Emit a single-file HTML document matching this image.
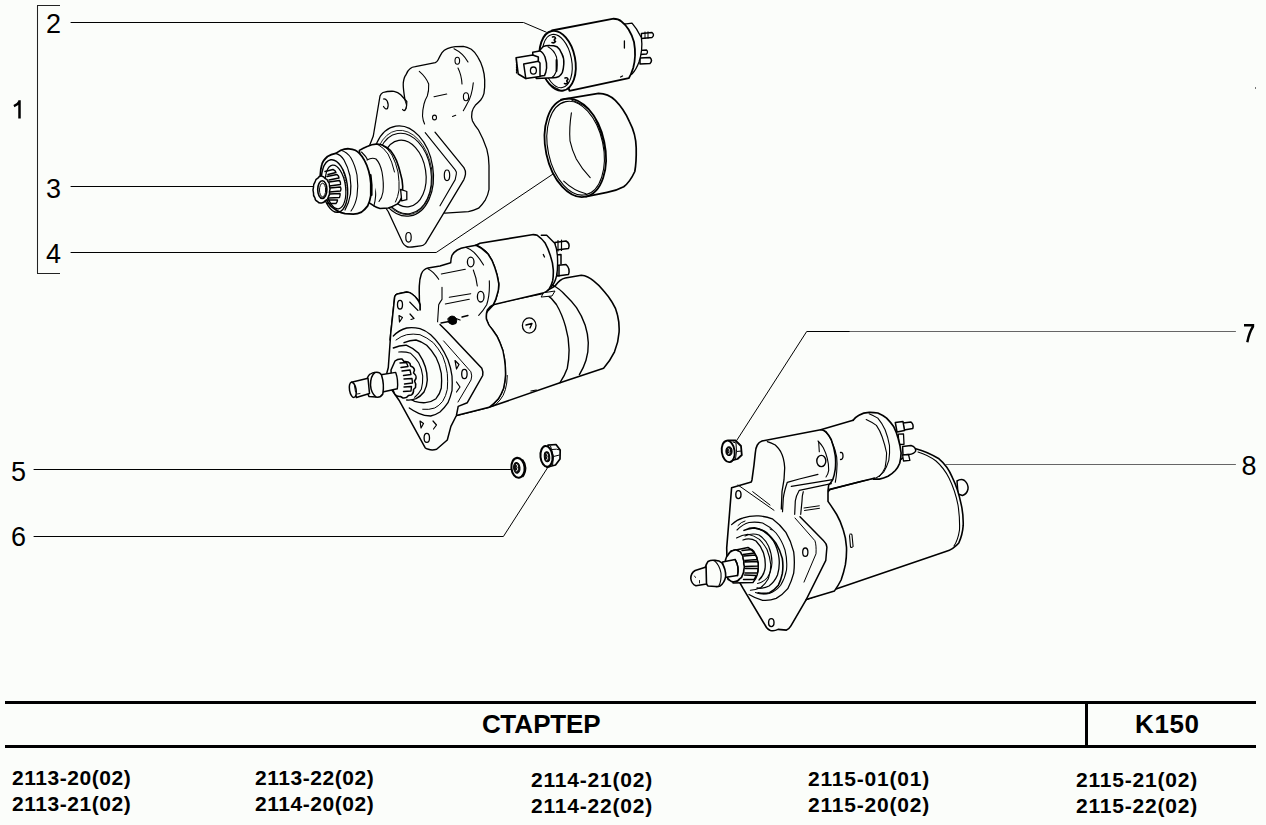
<!DOCTYPE html>
<html><head><meta charset="utf-8">
<style>
html,body{margin:0;padding:0;background:#fbfdfa;}
body{width:1266px;height:825px;position:relative;overflow:hidden;font-family:"Liberation Sans",sans-serif;color:#000;}
.n{position:absolute;font-size:27px;line-height:27px;}
.m{position:absolute;font-size:21px;font-weight:bold;line-height:26px;white-space:nowrap;letter-spacing:0.55px;}
.t{position:absolute;font-size:26px;font-weight:bold;line-height:26px;}
svg{position:absolute;left:0;top:0;}
</style></head><body>
<svg width="1266" height="825" viewBox="0 0 1266 825">
<g fill="none" stroke="#000" stroke-width="1" stroke-linejoin="round" stroke-linecap="round">
<!-- bracket -->
<path d="M60 5.5H37.5V273.5H60" stroke-width="1.05" stroke="#222" stroke-linecap="butt" stroke-linejoin="miter"/>
<!-- leader lines -->
<path d="M71 22.5H523.5L546.3 32.2"/>
<path d="M71 186.5H313"/>
<path d="M71 252.5H436.2L552.6 174.3"/>
<path d="M34 469.5H510.5"/>
<path d="M34 536.5H503.4L547.6 467.7"/>
<path d="M850 331.5H806.7L736.8 440.3"/>
<path d="M1235.5 331.5H850" stroke="#666" stroke-width="1"/>
<path d="M1235.5 464.5H946" stroke="#666" stroke-width="1"/>
</g>
<!-- solenoid (2) -->
<g fill="#fbfdfa" stroke="#000" stroke-width="1.5" stroke-linejoin="round" stroke-linecap="round">
<path d="M641.4 33.5L652 32.5Q655 35 652 37.5L641.4 38.5Z" stroke-width="1.4"/>
<path d="M645 32V38.5M648 31.8V38.2" stroke-width="1"/>
<path d="M640 50.4L646.5 50Q648.5 52 646.5 54L640 54.5Z" stroke-width="1.3"/>
<path d="M640 58L650 57.5Q653 60.5 650 63.5L640 64Z" stroke-width="1.5"/>
<path d="M620 24L626.3 23.8L632 23.2L636.4 28.9L641.4 37.7Q643 50 639 62Q636 70 632 74L625 78Z" stroke-width="1.3"/>
<path d="M551.7 30.5L612.4 18.8Q618 18.5 621.2 21.3Q630 28 634 42Q636.5 56 633.2 68.1Q631 75 628.8 78.2L569.4 90.8Z" stroke-width="1.8"/>
<path d="M624.4 41V48M620.6 77L622.5 76" stroke-width="1.3"/>
<ellipse cx="557.6" cy="60.8" rx="17.6" ry="30.3" transform="rotate(-11 557.6 60.8)" stroke-width="1.9"/>
<ellipse cx="557.2" cy="61" rx="14.4" ry="27" transform="rotate(-11 557.4 61)" fill="none" stroke-width="1.1"/>
<path d="M546.5 80.5Q551 86.5 559 89.5" fill="none" stroke-width="1.1"/>
<path d="M543.1 46.7Q546 45.2 550 45.4Q554 45.4 556.9 46.7Q560.5 49.5 561.8 53.7Q564.2 58 563.8 64Q563.5 69 562.4 72.3Q561 75 559 76.5Q556 77.8 553.5 77.8L536.2 78.5L540 50Z" stroke-width="1.5"/>
<path d="M548 46.8Q554 50 556.5 57Q558 66 556 72Q554.5 76 552 77.5" fill="none" stroke-width="1.1"/>
<path d="M556.5 60V71" fill="none" stroke-width="1.8"/>
<path d="M532.7 52.3L539.6 50.9Q543 52 545 57Q547 63 546.6 68Q546 73 544.5 75.5L534 77Z" stroke-width="1.5"/>
<path d="M516.1 57.8L532.7 55L538.3 57V74L525.8 78.5L518.2 74Z" stroke-width="1.6"/>
<path d="M523.7 64L538.3 61.3L540 63V76.5L525.8 78.5Z" stroke-width="1.5"/>
<path d="M516.5 59V73" fill="none" stroke-width="1.2" stroke-dasharray="1.5 1"/>
<ellipse cx="533.4" cy="70.6" rx="3" ry="3.6" stroke-width="1.3"/>
<path d="M552.5 37Q555 36 555.5 38.5Q553 40 555.5 41.5Q554 43.5 552 42.5" fill="none" stroke-width="1.6"/>
<path d="M565 78Q567.5 77 568 79.5Q565.5 81 568 82.5Q566.5 84.5 564.5 83.5" fill="none" stroke-width="1.6"/>
</g>
<!-- ring -->
<g fill="none" stroke="#000" stroke-width="1.5" stroke-linejoin="round" stroke-linecap="round">
<path d="M561 99.6L598.6 93.4Q608 93.5 615.3 100.3Q624 109 629.3 121.3Q636 134 636.2 147.8Q636.5 162 634.8 171.5Q630 182 623.7 186.8Q616 191 607 192.4L586 196.6" stroke-width="1.7"/>
<ellipse cx="575.3" cy="147.8" rx="29.6" ry="49.9" transform="rotate(-12 575.3 147.8)" stroke-width="1.8"/>
<ellipse cx="575.6" cy="148.2" rx="27.6" ry="47.6" transform="rotate(-12 575.6 148.2)" stroke-width="1.1"/>
<path d="M571.4 112.9Q569 128 570 140.8Q572 150 576.3 158.9Q582 169 590.2 177.7" stroke-width="1.1"/>
<path d="M595.8 119.9Q603 135 605.5 154" stroke-width="1.1"/>
<path d="M563.7 181.2Q574 191 586 193.8" stroke-width="1.1"/>
<path d="M572 100.5Q583 104 588 109" stroke-width="1.1"/>
</g>
<!-- drive housing + pinion (3) -->
<g fill="#fbfdfa" stroke="#000" stroke-width="1.3" stroke-linejoin="round" stroke-linecap="round">
<!-- housing body silhouette -->
<path d="M402.7 110Q404 106 406.3 108Q405 101 404 93.3Q403 86 403.3 82.7Q404 77 406 74.7Q408 70 410 68.7Q412 67 415.3 66.7L435.3 62.7Q437 62 438 60Q440 56 442 52.7Q444 50 447.3 48.7Q451 47 455.3 46.7L463.3 46.4Q467 47 471.3 49.3Q475 52 478 57.3Q481 62 482.7 68Q484.5 74 484.7 80Q485 87 484 93.3Q483 97 480.7 100Q478 103 475.3 105.3Q473 108 472 112Q471 117 472.5 121Q475 126 478.6 130.2Q483 138 486.8 149.1Q489 157 489 165.5L489 189.5Q488 195 485.4 199.8Q482 205 478.6 208.2Q474 210.5 468.4 211.6L444.9 213.1L420 200L380 150Z"/>
<!-- flange diamond -->
<path d="M380 96Q381 93.5 383 92.5Q388 91 394 91.3Q398 92 400.7 94.7Q404 98 405.3 102.7Q406.5 106 406.3 108Q406 111 404 110.7L435 132.2L463.9 167.6Q466 171 465.5 174.2Q465 177 463.9 179.6L425.5 243.4Q423 246 420.6 245.8L412.1 247Q408 247.5 406.4 246.4Q404 245 402.7 242.7L388.2 211.5L360 170L373.3 136Z" stroke="none"/>
<path d="M435 132.2L463.9 167.6Q466 171 465.5 174.2Q465 177 463.9 179.6L425.5 243.4Q423 246 420.6 245.8L412.1 247Q408 247.5 406.4 246.4Q404 245 402.7 242.7L388.2 211.5L360 170L373.3 136L380 96Q381 93.5 383 92.5Q388 91 394 91.3Q398 92 400.7 94.7L406.8 101.5Q407 106 405.5 109.5Q404 111.5 402.6 109.5" fill="none"/>
<path d="M425.2 132.7L455.2 169.8Q457 172 456.3 174.2L455.2 179.6L440 205.8" fill="none" stroke-width="1.1"/>
<path d="M383.5 99Q385.5 98.5 387.2 101Q389 105 387.5 108.5Q385.5 110 383.5 106.5" fill="none" stroke-width="1.2"/>
<ellipse cx="447" cy="175.3" rx="2.7" ry="5.3" stroke-width="1.2"/>
<ellipse cx="408.5" cy="237.3" rx="2.7" ry="4.8" stroke-width="1.2"/>
<!-- housing inner detail -->
<path d="M419.3 71.3Q426 77 428.7 84Q429 91 427.3 96Q425 100 424 104Q422.5 110 422.5 116Q423 121 424.6 124" fill="none" stroke-width="1.1"/>
<path d="M434 96.7L446.7 94M452.5 116.4L455.7 115.3" fill="none" stroke-width="1.1"/>
<ellipse cx="434.5" cy="117.5" rx="2" ry="2.4" stroke-width="1.1"/>
<ellipse cx="457.3" cy="60.7" rx="2.3" ry="3.5" stroke-width="1.1"/>
<ellipse cx="466" cy="96.7" rx="2.6" ry="4" stroke-width="1.1"/>
<path d="M458 68Q461.5 75 462 84M454 48.7Q463 53 468 62M473.3 82.7Q472 96 467 104Q465 108 463.3 110.7" fill="none" stroke-width="1.1"/>
<!-- boss rings -->
<ellipse cx="403" cy="171" rx="30" ry="45.5" transform="rotate(-9 403 171)" stroke-width="1.3"/>
<ellipse cx="403.6" cy="172.5" rx="28.2" ry="42.5" transform="rotate(-9 403.6 172.5)" fill="none" stroke-width="0.8"/>
<ellipse cx="404" cy="173.5" rx="27" ry="40.5" transform="rotate(-9 404 173.5)" fill="none" stroke-width="1.1"/>
<ellipse cx="404" cy="173.5" rx="21.8" ry="33.5" transform="rotate(-9 404 173.5)" stroke-width="1.2"/>
<!-- collar -->
<path d="M359.4 150.3Q363 148 367.7 146.2Q372 144.3 375.9 144.1Q379 144 382.1 145.1Q386.5 147 390.3 150.3Q394 155 396.5 160.6Q399 167 400.6 174Q402.5 180 402.7 186.3Q402.8 192 401.7 197.7Q400 201.5 397.5 203.9Q393 206.5 388.3 208L380 208.5Q376 207.5 373.9 205.9L365 200Z" stroke-width="1.6"/>
<path d="M382.1 145.1Q388 148 392 155Q396 163 398 172Q399.5 182 399 190Q398 197 395.5 202M378 144.5Q384 148 388 154Q392 161 394.5 172" fill="none" stroke-width="1"/>
<path d="M400.6 189.4L406.8 191.5L406.8 199.7L401.7 200.8Z" stroke-width="1.3"/>
<path d="M361.5 152Q366 156 369 162Q373 171 375.5 185Q376.5 197 373.9 205.9" fill="none" stroke-width="1.1"/>
<path d="M367 160Q372 157 376 159Q380 163 382 172Q384 183 383 192Q382 198 379 201.5" stroke-width="1.1"/>
<path d="M370.5 175Q372 185 371.5 195" fill="none" stroke-width="2.2"/>
<!-- clutch drum -->
<path d="M321.8 164.7Q322.5 161 327.5 156.5Q331 154.5 335.7 153.4Q338 152 340.9 150.3Q345 148.5 349.1 148.8Q352.5 149 355.3 150.3Q357.5 151.5 359.4 153.4Q362.5 156.5 364.6 160.6Q367 165 368.7 170.9Q370.5 177 370.8 183.3L370.8 195.6Q370 201 367.7 205.9Q365 209.5 361.5 212.1Q357.5 214 353.3 214.2L345 213.6Q341 212.8 337.8 211.1Q334 209 330.6 205.9Q327.5 202 325.4 197.7Q322.5 193 321.3 187.4Q320.2 181 320.3 175Q320.5 169 321.8 164.7Z" stroke-width="1.8"/>
<path d="M335.7 153.4Q341 155 344 160Q348 167 350 176Q351.5 186 350.5 194Q349 203 345 210" fill="none" stroke-width="1.2"/>
<path d="M340.9 150.3Q347 152 351 158Q355 165 357 175Q358.5 186 357 196Q355.5 205 351 211" fill="none" stroke-width="1.1"/>
<ellipse cx="334.5" cy="186" rx="12.8" ry="26.5" transform="rotate(-8 334.5 186)" fill="none" stroke-width="1.4"/>
<ellipse cx="335.5" cy="187" rx="10" ry="22" transform="rotate(-8 335.5 187)" fill="none" stroke-width="1.2"/>
<path d="M343 170Q346 180 346 190" fill="none" stroke-width="1" stroke-dasharray="1 1.5"/>
<!-- pinion teeth -->
<path d="M325 171.5L333 169.5Q335.5 170.5 336 172.5L328 174.5M327 176.5L337 174.5Q339 176 339 178L329 180M329 182L339.5 180.5Q341 182.5 340.5 184.5L329.5 186M329.5 188L340.5 187Q341.5 189 340.5 191L329.5 192M329.5 194L340 193.5Q340.5 195.5 339.5 197.5L329 198M328 200L337.5 200Q337.5 202 336 203.5L327 203.5" fill="none" stroke-width="1.4"/>
<!-- pinion gear face -->
<path d="M321.5 176Q324 176.5 325 178.5Q327.5 179 328 181.5Q330 183.5 329.5 186Q330.5 189 329.5 191.5Q330 194.5 328.5 196.5Q328 199.5 325.5 200.5Q324 203 321.5 203Q319 203.5 317.5 201.5Q315 200.5 315 198Q313 196 313.5 193Q312.5 190 313.5 187Q313.5 184 315 182Q315.5 179 318 178Q319.5 175.5 321.5 176Z" stroke-width="1.5"/>
<ellipse cx="322.3" cy="189.6" rx="4.6" ry="8.8" stroke-width="1.6"/>
<ellipse cx="322.6" cy="190" rx="3.1" ry="6.8" fill="none" stroke-width="1"/>
</g>
<!-- starter 1 (assembled) -->
<g fill="#fbfdfa" stroke="#000" stroke-width="1.3" stroke-linejoin="round" stroke-linecap="round">
<!-- solenoid terminals -->
<path d="M554.7 242.5L566 241Q570.5 243.5 568.5 248.5L556 250Z" stroke-width="1.5"/>
<path d="M558 240.5V251M561.5 240V250.5" fill="none" stroke-width="1.2"/>
<path d="M556 265.5L566 264.5Q570.5 268.5 568.5 274.5L557 276Z" stroke-width="1.5"/>
<path d="M556 255L561 254.5V264M559 266V276" fill="none" stroke-width="1.5"/>
<path d="M541.3 235.3L546.7 235.3L554.7 243.3Q557.5 250 557.5 258Q558 268 556.5 276Q555 283 551 287" stroke-width="1.4"/>
<!-- motor -->
<path d="M494.5 303.6L541.8 293.6L555 286Q560 279 565.3 278L581.3 275.3Q588 276 593.3 280.7Q599 285 604 291.3Q609 297 612 302Q616 308 617.5 315Q619.5 323 619.1 332Q618.5 342 614.5 351.8Q610 361 603.6 368.2L581.8 375.5L560 382.7L489.1 407.3L456.4 415.5L470 330Z" stroke-width="1.6"/>
<path d="M545.5 293.6Q552 298 556.4 304.5Q562 314 565.5 326.4Q569 338 569.1 350Q569 360 567.3 368.2Q564.5 376 560 382.7" fill="none" stroke-width="1.4"/>
<path d="M551.8 284.5Q560 289 565 294.8Q571.5 301 576.5 307.7Q582 316 585.2 325.2Q588 334 588.3 342.7Q588.5 352 586 360.2Q583.5 368 579.4 374.7" fill="none" stroke-width="1.4"/>
<ellipse cx="529.2" cy="325.5" rx="6.8" ry="7.6" stroke-width="1.3"/>
<path d="M526 325L532 323.5L530 328" fill="none" stroke-width="1.3"/>
<path d="M530.9 391L536.4 390" fill="none" stroke-width="1.2"/>
<!-- intermediate housing -->
<path d="M494.5 303.6Q490 306 487.3 310Q485.8 314 486.4 319.1Q488 325 492.7 330Q497.5 336 500 342.7Q503.5 350 504.5 359.1Q505.7 367 505.5 375.5Q505 382 503.6 388.2Q501.5 394 498.2 399.1Q494 404 489.1 407.3" fill="none" stroke-width="1.5"/>
<path d="M507.3 375.5Q507 392 500 400Q497 404 492.7 406.4" fill="none" stroke-width="1"/>
<!-- solenoid body -->
<path d="M476 245.3L480 243.3L532 234.7Q535 234.5 537.3 235.3Q542 238.5 545.3 243.3Q548.5 249 550.7 256.7Q553 263 553.3 270Q553.5 276 552.7 280.7Q551.5 285 549.3 288.7Q547 291.5 544 292.7L493.3 304.7Z" stroke-width="1.6"/>
<path d="M543.3 254.5L544.5 257" fill="none" stroke-width="1.3"/>
<path d="M544 292.7L555 291L552 296L541.5 297Z" stroke-width="1"/>
<path d="M476 245.3Q482.5 248 488 254Q492.5 260 494.7 267.3Q497.5 275 498.7 283.3Q499 289 497.3 294Q496 300 493.3 304.7" fill="none" stroke-width="1.6"/>
<!-- drive-end housing body -->
<path d="M394.7 296.7Q395.5 294.5 397.3 294L406.7 292Q410 292.2 412 294Q415 296 417.3 299.3Q419.5 302 420 304.7L420 310Q419 299 419.3 286Q419.5 279 421.3 274Q422.5 271 424 270Q426 268.3 428 268L440 266L450.7 262.7Q451 258 452 255.3Q454 252 457.3 250Q461 248 465.3 247.3L476 245.3Q482.5 248 488 254Q492.5 260 494.7 267.3Q497.5 275 498.7 283.3Q499 289 497.3 294Q496 300 493.3 304.7Q490 306 487.3 310Q485.8 314 486.4 319.1Q488 325 492.7 330Q497.5 336 500 342.7Q503.5 350 504.5 359.1Q505.7 367 505.5 375.5Q505 382 503.6 388.2Q501.5 394 498.2 399.1Q494 404 489.1 407.3L456.4 415.5L440 380L390 340Z" stroke-width="1.5"/>
<path d="M428 268.7Q431 270.5 433.3 272.7Q436.5 276 438.7 279.3M441.3 274L465.3 269.3M442 287.3V299.3Q440 302 438.7 304.7L437.3 326M449.3 297.3L470.7 293.7M445.3 304L469.3 299.3M473.3 270Q476.5 278 477.3 286" fill="none" stroke-width="1.1"/>
<path d="M466.2 247.4Q470.5 249 474 252.3Q479.5 258 483.6 265M489.3 280.7Q490 295 486.7 304.7Q483 311 478.7 315.3" fill="none" stroke-width="1.1"/>
<ellipse cx="470.7" cy="262" rx="3.3" ry="4.8" stroke-width="1.3"/>
<ellipse cx="480.7" cy="296.7" rx="3.3" ry="5.3" stroke-width="1.3"/>
<path d="M448 318.5Q451 314.5 455 317Q458 320 456 323.5Q452 326 449 323Z" fill="#000" stroke-width="1"/>
<path d="M456 318.5L460 320M441 323L449 321.5M462 317L468 315.5" fill="none" stroke-width="1.3"/>
<!-- flange diamond -->
<path d="M394.7 296.7Q395.5 294.5 397.3 294L406.7 292Q410 292.2 412 294Q415 296 417.3 299.3Q419.5 302 420 304.7L420 310L437.3 322L447.3 331.8L481.8 368.2Q483.5 372 482.7 375.5L467.3 402.7L458.2 406.4L456.4 415.5L450.9 426.4L447.3 440L436.6 449.3Q432 450.5 428.4 449.3Q426 448.5 425.1 447.7L399 400.2L385 380L388.3 367.5L390.7 334L393.3 310Z" stroke="none"/>
<path d="M420 310L420 304.7Q419.5 302 417.3 299.3Q415 296 412 294Q410 292.2 406.7 292L397.3 294Q395.5 294.5 394.7 296.7L393.3 310L390.7 334L388.3 367.5L385 380L399 400.2L425.1 447.7Q426 448.5 428.4 449.3Q432 450.5 436.6 449.3L447.3 440L450.9 426.4L456.4 415.5L458.2 406.4L467.3 402.7L482.7 375.5Q483.5 372 481.8 368.2L447.3 331.8L440 324.5" fill="none" stroke-width="1.5"/>
<path d="M443.6 340.9L470.9 371.8Q472.5 376 471 380L458 402" fill="none" stroke-width="1"/>
<ellipse cx="400" cy="304.7" rx="2.5" ry="4.3" stroke-width="1.3"/>
<path d="M409.7 302L418 310.5" fill="none" stroke-width="1.1"/>
<ellipse cx="464.4" cy="374" rx="2.7" ry="4.7" stroke-width="1.3"/>
<ellipse cx="426.8" cy="437.9" rx="2.7" ry="4.5" stroke-width="1.3"/>
<path d="M399 315.5L402.5 317.5L399.5 322ZM410 314L414 318.5L411 319.5M455 360.5L459 364.5L456.5 369ZM456.5 382L460 387L456.5 392M420 421L423.5 423.5L421 428ZM433 421L436.5 425L433.5 429" fill="none" stroke-width="1.2"/>
<!-- rings -->
<path d="M393.3 336Q399 330 406.7 328Q413 327 420 328.7Q425.5 330.5 430.7 334.7Q435.5 339 440 345.3Q444.5 352 448 360Q451 368 452 376Q452.5 383 452 390.7Q450.5 397 448 402.7Q444.5 408 440 412Q435.5 415 430.7 416Q424.5 416 418.7 413.3Q413.5 411 409.3 408" stroke-width="1.3"/>
<path d="M396 340Q401 336 406.7 334.7Q413 333.5 420 334.7Q427 337.5 433.3 342.7Q438.5 348.5 442.7 356Q446 364 447.3 373.3Q448 381 447.3 389.3Q446 396 442.7 401.3Q439 406 434.7 408Q429 410 422.7 409.3" fill="none" stroke-width="1"/>
<path d="M404 342.7Q410 340 416 340Q421.5 341.5 426.7 345.3Q432 350.5 436 357.3Q439.8 365 441.3 373.3Q442 380.5 441.3 388Q440 394 436 398.7Q431 402.3 425.3 402.7Q420 403 414.7 401.3Q409.5 399 405.3 396" stroke-width="1.3"/>
<path d="M393.3 348Q400 345 406.7 345.3Q413.5 348 418.7 353.3Q423 359.5 425.3 366.7Q427.3 373 427.3 380Q427 386.5 424 392Q420.5 396.5 416 398.7Q411.5 400.5 406.7 400" stroke-width="1.4"/>
<path d="M398.7 352Q405 351.5 410.7 353.3Q415.5 357.5 418.7 362.7Q422 369 422.7 376Q423 383 421.3 389.3Q418.5 394.5 414.7 397.3" fill="none" stroke-width="1.1"/>
<!-- pinion gear -->
<path d="M395 361Q398 358.5 402 359L404 361.5Q408 361 410 363.5L410.5 366Q414 367 414.5 370L413.5 373Q416.5 375 416 378.5L414.5 381Q416.5 384 415.5 387.5L413.5 389.5Q414 393 411.5 395L408.5 395.5Q406.5 398.5 403 398L400.5 396.5Q397 397 395 394.5L392 388L391 370Z" stroke-width="1.5"/>
<path d="M400 363L406.5 362.5L408 366.5L401 367.5M402 371L410 370L411 374.5L403.5 375.5M404 379L412 378.5L412.5 383L404.5 384M404 387L411.5 386.5L411 391L403.5 391.5" fill="none" stroke-width="1.4"/>
<!-- shaft -->
<path d="M380.9 374.8L395.7 372.4Q398.5 380 397.3 388.8L382.6 392Z" stroke-width="1.4"/>
<path d="M375 372.4Q379.5 371.5 381.5 375Q384.5 384.5 382.8 394Q380.5 397.8 376 397Q371 393 370.5 385Q370.5 376 375 372.4Z" stroke-width="1.5"/>
<path d="M369.5 374.5Q373 372.5 375 372.4M369 396.5L376 397M369.5 374.5Q366 378 366.5 386Q367 393.5 369 396.5" fill="none" stroke-width="1.4"/>
<path d="M351.5 382.2L368 378.3L369.5 393.5L356.4 397.5Z" stroke-width="1.5"/>
<ellipse cx="352.8" cy="389.8" rx="3.3" ry="7.7" transform="rotate(-10 352.8 389.8)" stroke-width="1.5"/>
<path d="M354.5 386L355.5 392M357 394L360 393.5" fill="none" stroke-width="0.9"/>
</g>
<!-- starter 2 -->
<g fill="#fbfdfa" stroke="#000" stroke-width="1.3" stroke-linejoin="round" stroke-linecap="round">
<!-- rear bolt -->
<path d="M957 481Q961 478.5 964.5 480.5Q968.5 484 968 489Q967 494 962.5 495.5L958 494Z" stroke-width="1.5"/>
<!-- motor -->
<path d="M830.2 489.4L876 477.4L915.7 448.7Q927.3 451.6 939 458.8Q947.7 466 952.3 477.4Q958 489 961 503.6Q963.5 514 963.2 525.4Q962.5 535 958.8 542.9Q953.5 549 945.8 551.6L836.7 588.7L806.2 599.6L800 520Z" stroke-width="1.6"/>
<path d="M918 452Q928 455 936 461Q944 468 949 478Q955 490 958 505Q960 518 959.5 530Q958 540 954 546" fill="none" stroke-width="1.1"/>
<!-- terminals -->
<path d="M903 423L911 422Q914 424.5 912.8 428.5L904 430Z" stroke-width="1.5"/>
<path d="M895.3 422.5L903 421.5L904.5 430.5L897 432Z" stroke-width="1.5"/>
<path d="M898.2 434.1L903.5 433.8L904 444.3L899 444.5Z" stroke-width="1.3"/>
<path d="M902.6 446.5L911 445.5Q916 447 915.7 451Q914 454 909 454.5L903 455Z" stroke-width="1.5"/>
<path d="M902.6 455L908.5 454.5L909.9 460.3L903.5 461Z" stroke-width="1.3"/>
<!-- solenoid -->
<path d="M820 430L853.1 420.3L873.5 478.5L828.7 485Z" stroke="none"/>
<path d="M853.1 420.3Q855.5 417 858.9 415.2Q863.5 412.5 869.1 412.3Q873.5 412.2 877.8 413Q882.5 415 886.6 418.1Q890.5 422 893.8 426.8Q896.5 432 898.2 438.5Q900.3 445.5 901.1 453Q901 458.5 899.7 463.2Q898 467.5 895.3 470.5Q892 474 888 476.3Q883.5 478.5 879.3 479.2L873.5 479.2Q872 470 869 450Q864 430 853.1 420.3Z" stroke="none"/>
<path d="M853.1 420.3Q855.5 417 858.9 415.2Q863.5 412.5 869.1 412.3Q873.5 412.2 877.8 413Q882.5 415 886.6 418.1Q890.5 422 893.8 426.8Q896.5 432 898.2 438.5Q900.3 445.5 901.1 453Q901 458.5 899.7 463.2Q898 467.5 895.3 470.5Q892 474 888 476.3Q883.5 478.5 879.3 479.2L873.5 479.2" fill="none" stroke-width="1.7"/>
<path d="M869.1 413.7Q873.5 415.5 877.8 418.1Q882 423 885.1 429.7Q888 437 889.5 445.7Q890 453 888.8 460.3Q887 466.5 883.7 472Q880.5 475.5 876.4 477.8" fill="none" stroke-width="1.1"/>
<path d="M866.2 419.6Q871.5 422 876.4 425.4Q880 430.5 882.2 437Q885 445 886.6 453Q886.5 460.5 885.1 467.6Q883 472.5 879.3 476.3" fill="none" stroke-width="1.1"/>
<path d="M820.7 429.7L853.1 420.3M829 489.5L875 478" fill="none" stroke-width="1.6"/>
<!-- housing hood + clamp -->
<path d="M731.6 487.8L751.3 481.9L752 479.7L754 465L755.3 453Q755.8 447.5 757.3 445Q759 442 762 441L820.7 429.7Q823.5 430 826 431.7Q829 435 831.3 439.7Q834 447 835.3 455.7Q836 462 835.3 469Q834.5 475 832.7 479.7Q831 483 828.7 485L828 490.5Q828 496 828 501.4Q832 507 836.7 514.5Q840.5 521 843.2 529.8Q846 538 846.5 547.2Q846.8 556 845.4 564.7Q843.8 572.5 841.1 580Q838 586 834.5 590.9L806.2 599.6L790.9 625.8Q789 629 786.5 630.1L778.1 629.4Q774 631.5 770.4 630.4Q768 629.5 766.5 627.5L743.2 588.7L727 560L726.7 547.9Z" stroke-width="1.6"/>
<path d="M823.3 430.3Q826.5 432.5 828.7 435.7Q831 439 832.7 443.7Q835.5 450 836.7 457Q837.5 464 836.7 471.7Q836.3 477 835.3 482.3" fill="none" stroke-width="1.1"/>
<path d="M818 441Q821 444 823.3 447.7Q826 453 827.3 458.3Q828.8 464 828.7 470.3Q828 474.5 826 477" fill="none" stroke-width="1.1"/>
<path d="M767.3 441.7Q771.5 443 775.3 445Q778.5 448 780.7 451.7Q782.5 455 783.3 458.3Q784.5 463 784.7 467.7L784 479.7L782 491.7L781.3 509" fill="none" stroke-width="1.3"/>
<path d="M787.3 482.3L799.3 479L818 474.3M791.3 486.3L832.7 479.7M799.3 490.3L831.3 483.7M787.3 482.3Q784 492 783.3 498.3L782.5 511.7M799.3 490.3Q796 496 795.3 501L794.7 514.3M803.3 491.7Q802 496 802 501L800.7 514.3" fill="none" stroke-width="1.2"/>
<path d="M800 516.7L823.6 540.7Q827 544 826.9 547.2L825.8 560.3L806.2 599.6" fill="none" stroke-width="1.5"/>
<path d="M795 518L814.9 540.7Q816.5 545 816 553.8L804 582.1" fill="none" stroke-width="1"/>
<path d="M738 485L774 510.3M752.7 491.7L770 505" fill="none" stroke-width="1"/>
<path d="M818.7 442.3L819.3 451.7" fill="none" stroke-width="1.1"/>
<ellipse cx="821.3" cy="461" rx="4.5" ry="5.6" stroke-width="1.4"/>
<path d="M840.5 452.5Q843 452 843 456Q843 459.5 840.5 459.5" stroke-width="1.3"/>
<path d="M804 508L819.3 505.8M804.5 510.5L819.5 508.3" fill="none" stroke-width="1"/>
<path d="M849.8 534.2Q851.5 533.5 852 535L853.1 546.5Q852 548 850.5 547L849.5 535.5" fill="none" stroke-width="1.1"/>
<ellipse cx="738.4" cy="494.6" rx="2.6" ry="4" stroke-width="1.4"/>
<ellipse cx="805.3" cy="552.2" rx="2.6" ry="4.2" stroke-width="1.3"/>
<ellipse cx="771.3" cy="622.6" rx="2.7" ry="4" stroke-width="1.4"/>
<!-- rings -->
<path d="M731.6 524.6Q737 519.5 743.2 517.8Q750.5 515.5 758.7 515.9Q766 516.5 772.3 518.8Q780 524.5 785.9 532.4Q791 541 793.7 551.8Q795 562 793.7 573.1Q791.5 581.5 787.8 588.7Q782.5 595 776.2 598.4Q769.5 601 762.6 600.3Q755.5 598.5 749 594.5" stroke-width="1.3"/>
<path d="M737 530Q743 524 749 522.5Q756 521.5 762.6 523Q770 526.5 776 533Q782 540.5 785 550Q787.5 560 786.5 570Q785 578.5 780.5 585.5Q775.5 591.5 769 593.5Q762 595 755.5 592.5" fill="none" stroke-width="1.1"/>
<path d="M749 528.5Q756 527 762.6 530.4Q769 534.5 773.5 541Q778 549 779 558Q780 567 777.5 575Q774.5 582 769 586Q763 589 757 588" stroke-width="1.3"/>
<path d="M745 536Q752 532.5 759 535Q765 539 768.5 546Q772 554 772 562.5Q771.5 571 767.5 577.5Q763 582.5 757.5 583.5" fill="none" stroke-width="1.1"/>
<path d="M743 540Q750 537.5 756 541Q761 546 763.5 553Q766 561 765 569Q763.5 576 759 580" fill="none" stroke-width="1.3"/>
<path d="M738 525.5Q741 522 745 521M770 529L772 530" fill="none" stroke-width="1"/>
<path d="M744 530.4Q749 528 754.3 527.9Q761 529 767 533Q772 537.5 775.9 543.2Q780 550 782.3 558.4Q783.5 566 782.3 573.7Q781 580 778.4 585.2Q774.5 590 769.5 592.8Q764 594 758.1 592.8" fill="none" stroke-width="1.6"/>
<path d="M736.5 538Q742 535 747.9 534.3Q754 535.5 759.4 539.4Q764 544 767 549.5Q770 557 770.8 564.8Q770.8 572 768.3 578.8Q765 584.5 760.6 587.7Q755.5 590 750.4 590.2" fill="none" stroke-width="1.1"/>

<!-- pinion -->
<path d="M731 551L748 547.5Q756 551 758.3 563Q759 576 753 582.5L733 583Z" stroke-width="1.4"/>
<path d="M742 550.5L752 549.5Q754.5 551 754.5 553L743 554.5M744 556L755.5 555Q757.5 557 757 559.5L745 560.5M745 562L757.5 561.5Q759 563.5 758.3 566L745.5 566.5M745.5 568.5L758 568.5Q758.5 570.5 757.5 573L745 573M744.5 575L756 575.5Q755.5 578 754 579.5L743.5 579.5" fill="none" stroke-width="1.4"/>
<path d="M733 550.5Q736 549 738.5 551Q741 551.5 741.5 554Q743.5 556 743 558.5Q744.5 561 743.8 564Q745 567 743.8 570Q744 573 742.5 575Q742 578 739.5 579Q738 581.5 735 581.5Q732 582.5 730 580.5Q727.5 579.5 727 576.5Q725 574 725.5 571L725.5 560Q726 556.5 728 555Q729.5 551.5 733 550.5Z" stroke-width="1.7"/>
<!-- shaft -->
<path d="M722.5 562L735.2 559.6Q739.5 567 737.5 575.5L724.5 577.5Z" stroke-width="1.5"/>
<path d="M735.2 559.6Q739.5 567 737.5 575.5" fill="none" stroke-width="1.5"/>
<path d="M714.1 560.4Q719 560 722 563Q725.8 569 725.7 576.4Q724.5 583 720 586Q717.5 587 715.5 586.5L708 586Q705 583 704.5 576Q704.5 566 708 561.5Q711 560 714.1 560.4Z" stroke-width="1.6"/>
<path d="M714.1 560.4Q719.5 565 721 573Q721.5 581 719 585.5" fill="none" stroke-width="1.1"/>
<path d="M695.2 570.5L706.1 566.9L706.5 584L695.9 585.8Q691.5 584 690.8 578.5Q690.8 573 695.2 570.5Z" stroke-width="1.6"/>
<path d="M694.5 576L695.5 577.5M699.5 580.5V583" fill="none" stroke-width="0.9"/>
</g>
<!-- nut 7 -->
<g fill="#fbfdfa" stroke="#000" stroke-linejoin="round">
<path d="M728 440.5L735.5 440.5L741 446L741.8 455L737.5 459L730 461Z" stroke-width="1.8"/>
<path d="M733 442L736 443L736.5 451.5L741.5 451M736.5 451.5L735.5 459" fill="none" stroke-width="1"/>
<ellipse cx="728.2" cy="451.4" rx="6.4" ry="10.8" transform="rotate(-8 728.2 451.4)" stroke-width="1.9"/>
<ellipse cx="729" cy="451.2" rx="3.1" ry="4.4" fill="#111" stroke-width="1"/>
<path d="M728.3 448.5Q729.6 448.6 729.5 450Q728.6 451.3 729.7 452.5Q729.4 454 728 454" fill="none" stroke="#fbfdfa" stroke-width="0.8"/>
</g>
<!-- nuts 5,6 -->
<g fill="#fbfdfa" stroke="#000" stroke-linejoin="round">
<ellipse cx="518" cy="467.8" rx="6.6" ry="10" transform="rotate(-6 518 467.8)" stroke-width="2.1"/>
<path d="M522.5 459.5Q525.5 463 525.8 468Q525.5 474 522.5 477" fill="none" stroke-width="1.3"/>
<ellipse cx="516.8" cy="467.8" rx="3.2" ry="5.4" transform="rotate(-6 516.8 467.8)" fill="#111" stroke-width="1"/>
<path d="M516 464.5Q517.5 464.3 517.6 466Q516.5 467.5 517.8 469Q517.5 471 515.8 471" fill="none" stroke="#fbfdfa" stroke-width="0.9"/>
<path d="M548 445.2L556 444.5L560.2 450L560 459L555.5 465L547 467.3Z" stroke-width="1.7"/>
<path d="M550.5 446L551.5 449.5L556.5 449.2L560 450M551.5 449.5L553.5 456.5L559.5 455M553.5 456.5L552.5 465.5" fill="none" stroke-width="1"/>
<ellipse cx="546.5" cy="456.4" rx="6" ry="10.4" transform="rotate(-6 546.5 456.4)" stroke-width="2"/>
<ellipse cx="547" cy="456.8" rx="2.7" ry="5" transform="rotate(-6 547 456.8)" fill="#111" stroke-width="1"/>
<path d="M546.3 453.6Q547.6 453.6 547.6 455.2Q546.6 456.6 547.8 458Q547.5 460 546 460" fill="none" stroke="#fbfdfa" stroke-width="0.8"/>
</g>
<!-- glyphs 1 and 7 -->
<g fill="none" stroke="#000" stroke-width="2.5" stroke-linecap="butt" stroke-linejoin="miter">
<path d="M19.5 100.2V118.6M19.6 101.2Q18 104.5 13.9 106.2"/>
<path d="M1244 325.2H1253L1253 326.5Q1249 333 1247.3 342.3" stroke-width="2.4"/>
</g>
<rect x="1255" y="87" width="1" height="2" fill="#777"/>
<!-- table -->
<g fill="#000">
<rect x="5" y="701" width="1251" height="3"/>
<rect x="5" y="745" width="1251" height="3"/>
<rect x="1085" y="701" width="3" height="47"/>
</g>
</svg>
<div class="n" style="left:46px;top:11px">2</div>
<div class="n" style="left:46px;top:176px">3</div>
<div class="n" style="left:46px;top:240.5px">4</div>
<div class="n" style="left:11px;top:458.5px">5</div>
<div class="n" style="left:11px;top:524px">6</div>
<div class="n" style="left:1241.5px;top:452.5px">8</div>
<div class="t" style="left:482px;top:711px">СТАРТЕР</div>
<div class="t" style="left:1135px;top:711px;letter-spacing:0.6px">K150</div>
<div class="m" style="left:12px;top:765px">2113-20(02)<br>2113-21(02)</div>
<div class="m" style="left:255px;top:765px">2113-22(02)<br>2114-20(02)</div>
<div class="m" style="left:531px;top:767px;letter-spacing:0.8px">2114-21(02)<br>2114-22(02)</div>
<div class="m" style="left:808px;top:766px;letter-spacing:0.8px">2115-01(01)<br>2115-20(02)</div>
<div class="m" style="left:1076px;top:767px;letter-spacing:0.8px">2115-21(02)<br>2115-22(02)</div>
</body></html>
